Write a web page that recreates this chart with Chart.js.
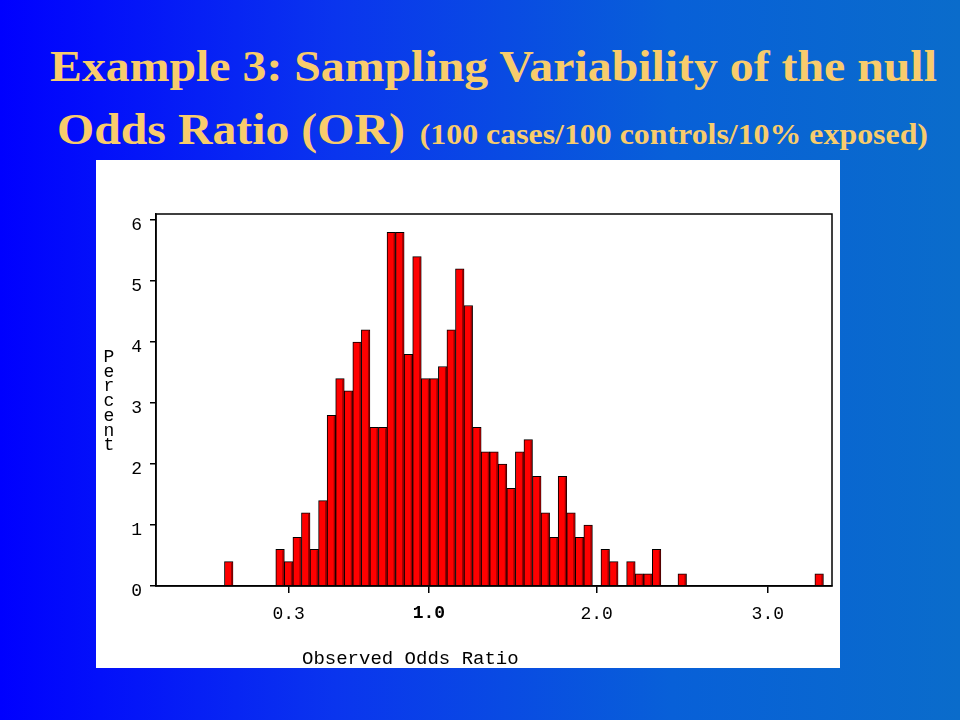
<!DOCTYPE html>
<html>
<head>
<meta charset="utf-8">
<script src="https://cdn.jsdelivr.net/npm/chart.js@4"></script>
<style>
  html, body { margin: 0; padding: 0; }
  body {
    width: 960px; height: 720px; overflow: hidden; position: relative;
    background: linear-gradient(to right, #0000ff 0%, #0a35ee 35%, #0860d8 70%, #0a6ccb 100%);
    font-family: "Liberation Serif", "Times New Roman", serif;
  }
  .title { position: absolute; color: #f8cc6c; font-weight: bold; white-space: nowrap; transform: scaleX(1.062); transform-origin: left top; }
  #t1 { top: 40px; left: 50px; font-size: 45px; }
  #t2 { top: 103px; left: 57px; font-size: 45px; }
  #t2 small { font-size: 30px; margin-left: 14px; }
  #panel { position: absolute; left: 96px; top: 160px; width: 744px; height: 508px; background: #fff; }
  #ylab { position: absolute; left: 4px; top: 190px; width: 18px; font: 18px "Liberation Mono", monospace; line-height: 14.7px; text-align: center; color: #000; }
  #xlab { position: absolute; left: 206px; top: 488px; font: 19px "Liberation Mono", monospace; color: #000; }
</style>
</head>
<body>
<div class="title" id="t1">Example 3: Sampling Variability of the null</div>
<div class="title" id="t2">Odds Ratio (OR)<small>(100 cases/100 controls/10% exposed)</small></div>
<div id="panel">
  <canvas id="hist" width="744" height="508"></canvas>
  <div id="ylab">P<br>e<br>r<br>c<br>e<br>n<br>t</div>
  <div id="xlab">Observed Odds Ratio</div>
</div>
<script>
// percent of samples in each of the 79 equal-width bins (left to right)
const binPercents = [
  0, 0, 0, 0, 0, 0, 0, 0, 0.4, 0,
  0, 0, 0, 0, 0.6, 0.4, 0.8, 1.2, 0.6, 1.4,
  2.8, 3.4, 3.2, 4.0, 4.2, 2.6, 2.6, 5.8, 5.8, 3.8,
  5.4, 3.4, 3.4, 3.6, 4.2, 5.2, 4.6, 2.6, 2.2, 2.2,
  2.0, 1.6, 2.2, 2.4, 1.8, 1.2, 0.8, 1.8, 1.2, 0.8,
  1.0, 0, 0.6, 0.4, 0, 0.4, 0.2, 0.2, 0.6, 0,
  0, 0.2, 0, 0, 0, 0, 0, 0, 0, 0,
  0, 0, 0, 0, 0, 0, 0, 0.2, 0
];
// x tick labels and where they sit, in bin units
const xTickLabels = ['0.3', '1.0', '2.0', '3.0'];
const xTickAt = [15.5, 31.9, 51.5, 71.5];
const yTicks = [0, 1, 2, 3, 4, 5, 6];

const monoFont = { family: '"Liberation Mono", monospace', size: 18 };

// box round the plot, plus the dark red shade on the right side of each bar
const frame = {
  id: 'frame',
  afterDatasetsDraw(chart) {
    const ctx = chart.ctx;
    ctx.save();
    ctx.fillStyle = '#9a0000';
    chart.getDatasetMeta(0).data.forEach(bar => {
      const h = bar.base - bar.y;
      if (h <= 0) return;
      const right = bar.x + bar.width / 2;
      ctx.fillRect(right - 2, bar.y + 1, 1.5, h - 1);
    });
    ctx.restore();
  },
  afterDraw(chart) {
    const { ctx, chartArea: a } = chart;
    ctx.save();
    ctx.strokeStyle = '#000';
    ctx.lineWidth = 1.5;
    ctx.strokeRect(a.left, a.top, a.right - a.left, a.bottom - a.top);
    ctx.restore();
  }
};

const points = binPercents.map((v, i) => ({ x: i + 0.5, y: v }));

new Chart(document.getElementById('hist'), {
  type: 'bar',
  data: {
    datasets: [{
      data: points,
      backgroundColor: '#ff0000',
      borderColor: '#000',
      borderWidth: 1,
      barPercentage: 1,
      categoryPercentage: 1
    }]
  },
  options: {
    responsive: false,
    animation: false,
    devicePixelRatio: 1,
    layout: { padding: { top: 54, right: 8, bottom: 0, left: 0 } },
    plugins: { legend: { display: false }, tooltip: { enabled: false } },
    scales: {
      x: {
        type: 'linear',
        min: 0,
        max: binPercents.length,
        offset: false,
        afterBuildTicks: s => { s.ticks = xTickAt.map(v => ({ value: v })); },
        afterFit: s => { s.height = 82; },
        ticks: {
          color: '#000',
          padding: 10,
          font: c => ({ ...monoFont, weight: c.index === 1 ? 'bold' : 'normal' }),
          callback: (v, i) => xTickLabels[i]
        },
        grid: { offset: false, drawOnChartArea: false, drawTicks: true, tickLength: 7, color: '#000', lineWidth: 1.5 },
        border: { display: true, color: '#000', width: 1.5 }
      },
      y: {
        min: 0,
        max: 6.1,
        afterBuildTicks: s => { s.ticks = yTicks.map(v => ({ value: v })); },
        afterFit: s => { s.width = 60; },
        ticks: { color: '#000', font: monoFont, padding: 8, labelOffset: 5 },
        grid: { drawOnChartArea: false, drawTicks: true, tickLength: 6, color: '#000', lineWidth: 1.5 },
        border: { display: true, color: '#000', width: 1.5 }
      }
    }
  },
  plugins: [frame]
});
</script>
</body>
</html>
